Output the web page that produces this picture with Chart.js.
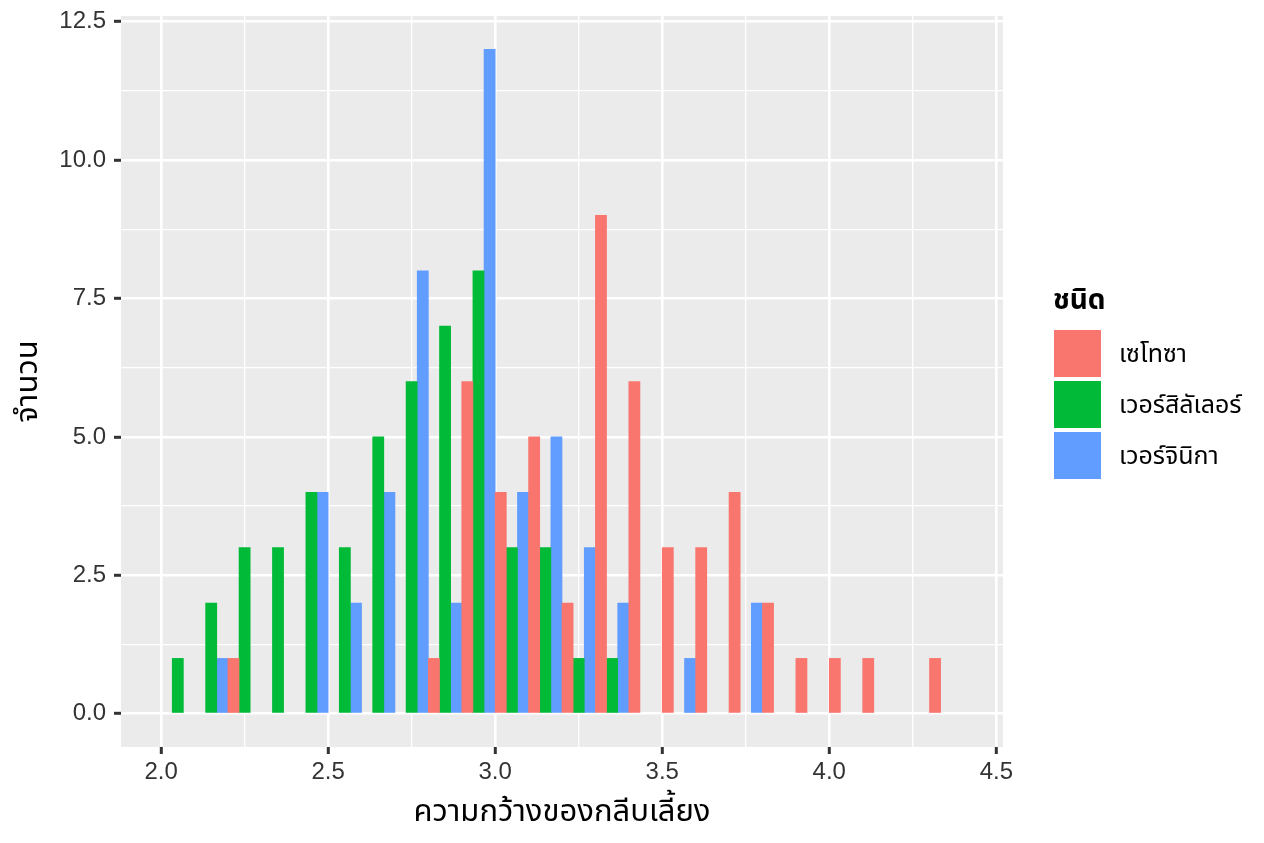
<!DOCTYPE html>
<html>
<head>
<meta charset="utf-8">
<script src="https://cdn.jsdelivr.net/npm/chart.js@4.4.1/dist/chart.umd.min.js"></script>
<style>
  html, body { margin: 0; padding: 0; background: #fff; }
  #wrap { width: 1264px; height: 843px; }
</style>
</head>
<body>
<div id="wrap"><canvas id="chart" width="1264" height="843"></canvas></div>
<script>
// ความกว้างของกลีบเลี้ยง : จำนวนต่อช่วง 0.1 (ค่ากลางของช่วง)
const binCenters = [2.05, 2.15, 2.25, 2.35, 2.45, 2.55, 2.65, 2.75, 2.85, 2.95, 3.05, 3.15,
                    3.25, 3.35, 3.45, 3.55, 3.65, 3.75, 3.85, 3.95, 4.05, 4.15, 4.25, 4.35];
const setosa     = [null, null, 1, null, null, null, null, null, 1, 6, 4, 5,
                    2, 9, 6, 3, 3, 4, 2, 1, 1, 1, null, 1];
const versicolor = [1, 2, 3, 3, 4, 3, 5, 6, 7, 8, 3, 3,
                    1, 1, null, null, null, null, null, null, null, null, null, null];
const virginica  = [null, 1, null, null, 4, 2, 4, 8, 2, 12, 4, 5,
                    3, 2, null, 1, null, 2, null, null, null, null, null, null];

const speciesNames = ['เซโทซา', 'เวอร์สิลัเลอร์', 'เวอร์จินิกา'];
const speciesColors = ['#F8766D', '#00BA38', '#619CFF'];
const legendTitle = 'ชนิด';
const xTitle = 'ความกว้างของกลีบเลี้ยง';
const yTitle = 'จำนวน';

// เส้นกริด (หลัก + รอง) และป้ายแกน
const xGrid = [2.0, 2.25, 2.5, 2.75, 3.0, 3.25, 3.5, 3.75, 4.0, 4.25, 4.5];
const xMajor = [2.0, 2.5, 3.0, 3.5, 4.0, 4.5];
const xTickLabels = ['2.0', '2.5', '3.0', '3.5', '4.0', '4.5'];
const yGrid = [0, 1.25, 2.5, 3.75, 5, 6.25, 7.5, 8.75, 10, 11.25, 12.5];
const yMajor = [0, 2.5, 5, 7.5, 10, 12.5];
const yTickLabels = ['0.0', '2.5', '5.0', '7.5', '10.0', '12.5'];

const thaiFont = '"Noto Sans Thai", "Noto Sans Thai Looped", "Noto Sans", "DejaVu Sans", sans-serif';
const numFont = '"Liberation Sans", Arial, sans-serif';

function toPoints(arr) {
  return binCenters.map((x, i) => ({ x: x, y: arr[i] }));
}

// พื้นหลังสีเทาของแผงกราฟ
const panelBg = {
  id: 'panelBg',
  beforeDraw(chart) {
    const a = chart.chartArea;
    const ctx = chart.ctx;
    ctx.save();
    ctx.fillStyle = '#EBEBEB';
    ctx.fillRect(a.left, a.top, a.right - a.left, a.bottom - a.top);
    ctx.restore();
  }
};

// คำอธิบายสัญลักษณ์ด้านขวา
const sideLegend = {
  id: 'sideLegend',
  afterDraw(chart) {
    const ctx = chart.ctx;
    ctx.save();
    ctx.fillStyle = '#000';
    ctx.textBaseline = 'alphabetic';
    ctx.font = 'bold 28px ' + thaiFont;
    ctx.fillText(legendTitle, 1053, 309);
    speciesNames.forEach((name, i) => {
      const top = 330 + i * 51;
      ctx.fillStyle = speciesColors[i];
      ctx.fillRect(1054, top, 47, 47);
      ctx.fillStyle = '#000';
      ctx.font = '25px ' + thaiFont;
      ctx.fillText(name, 1119, top + 32);
    });
    ctx.restore();
  }
};

const isMajor = (list, v) => list.some(m => Math.abs(m - v) < 1e-9);

new Chart(document.getElementById('chart'), {
  type: 'bar',
  data: {
    datasets: speciesNames.map((name, i) => ({
      label: name,
      data: toPoints([setosa, versicolor, virginica][i]),
      backgroundColor: speciesColors[i],
      borderWidth: 0,
      categoryPercentage: 1,
      barPercentage: 1
    }))
  },
  options: {
    responsive: false,
    animation: false,
    layout: { padding: { top: 16, right: 261, bottom: 0, left: 0 } },
    plugins: {
      legend: { display: false },
      tooltip: { enabled: false }
    },
    scales: {
      x: {
        type: 'linear',
        min: 1.88,
        max: 4.52,
        offset: false,
        border: { display: false },
        afterBuildTicks: s => { s.ticks = xGrid.map(v => ({ value: v })); },
        afterFit: s => { s.height = 96; s.paddingLeft = 0; s.paddingRight = 0; },
        grid: {
          offset: false,
          color: '#FFFFFF',
          lineWidth: c => isMajor(xMajor, c.tick.value) ? 2.6 : 1.3,
          tickLength: 7,
          tickWidth: 3,
          tickColor: c => isMajor(xMajor, c.tick.value) ? '#333333' : 'rgba(0,0,0,0)'
        },
        ticks: {
          autoSkip: false,
          maxRotation: 0,
          padding: 4,
          color: '#333333',
          font: { family: numFont, size: 24 },
          callback: v => {
            const i = xMajor.findIndex(m => Math.abs(m - v) < 1e-9);
            return i >= 0 ? xTickLabels[i] : '';
          }
        },
        title: {
          display: true,
          text: xTitle,
          color: '#000',
          font: { family: thaiFont, size: 31 },
          padding: { top: 0, bottom: 10 }
        }
      },
      y: {
        type: 'linear',
        min: -0.6,
        max: 12.6,
        border: { display: false },
        afterBuildTicks: s => { s.ticks = yGrid.map(v => ({ value: v })); },
        afterFit: s => { s.width = 121; s.paddingTop = 0; s.paddingBottom = 0; },
        grid: {
          color: '#FFFFFF',
          lineWidth: c => isMajor(yMajor, c.tick.value) ? 2.6 : 1.3,
          tickLength: 7,
          tickWidth: 3,
          tickColor: c => isMajor(yMajor, c.tick.value) ? '#333333' : 'rgba(0,0,0,0)'
        },
        ticks: {
          autoSkip: false,
          padding: 8,
          color: '#333333',
          font: { family: numFont, size: 24 },
          callback: v => {
            const i = yMajor.findIndex(m => Math.abs(m - v) < 1e-9);
            return i >= 0 ? yTickLabels[i] : '';
          }
        },
        title: {
          display: true,
          text: yTitle,
          color: '#000',
          font: { family: thaiFont, size: 31 },
          padding: { top: 12, bottom: 0 }
        }
      }
    }
  },
  plugins: [panelBg, sideLegend]
});
</script>
</body>
</html>
